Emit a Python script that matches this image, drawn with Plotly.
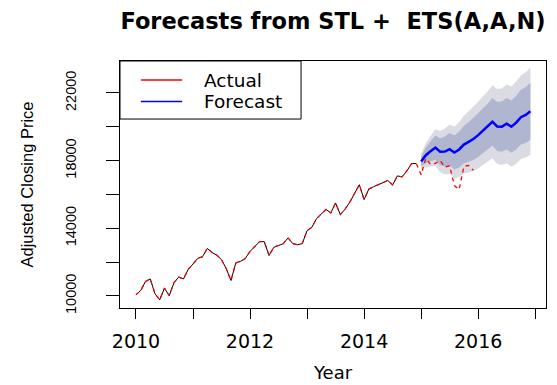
import numpy as np
import plotly.graph_objects as go

# Monthly adjusted closing prices, Jan 2010 - Dec 2015
train_close = [
    10067, 10325, 10857, 11009, 10137, 9774, 10466, 10015, 10788, 11118, 11006, 11578,
    11892, 12226, 12320, 12811, 12570, 12414, 12143, 11614, 10913, 11955, 12046, 12218,
    12633, 12952, 13212, 13214, 12393, 12880, 13009, 13091, 13437, 13096, 13026, 13104,
    13861, 14054, 14579, 14840, 15116, 14910, 15500, 14810, 15130, 15546, 16086, 16577,
    15699, 16322, 16458, 16581, 16717, 16827, 16563, 17098, 17043, 17391, 17828, 17823,
]
test_close = [
    17165, 18133, 17776, 17841, 18011, 17620, 17690, 16528, 16285, 17664, 17720, 17425,
]

# STL + ETS(A,A,N) forecast, Jan 2015 - Dec 2016
fc_mean = [17950, 18320, 18560, 18770, 18530, 18540, 18680, 18480, 18660, 18950, 19110, 19280,
           19510, 19770, 19990, 20300, 20020, 20010, 20180, 20010, 20250, 20570, 20700, 20920]
lo80 = [17650, 17850, 17970, 18060, 17730, 17650, 17730, 17480, 17600, 17830, 17930, 18040,
        18220, 18440, 18620, 18890, 18570, 18530, 18660, 18460, 18660, 18950, 19050, 19240]
hi80 = [18250, 18790, 19150, 19480, 19330, 19430, 19630, 19480, 19720, 20070, 20290, 20520,
        20800, 21100, 21360, 21710, 21470, 21490, 21700, 21560, 21840, 22190, 22350, 22600]
lo95 = [17490, 17600, 17660, 17680, 17310, 17180, 17230, 16950, 17040, 17240, 17300, 17380,
        17540, 17740, 17890, 18140, 17800, 17750, 17850, 17640, 17820, 18090, 18180, 18350]
hi95 = [18410, 19040, 19460, 19860, 19750, 19900, 20130, 20010, 20280, 20660, 20920, 21180,
        21480, 21800, 22090, 22460, 22240, 22270, 22510, 22380, 22680, 23050, 23220, 23490]

year_ticks = [2010, 2011, 2012, 2013, 2014, 2015, 2016, 2017]
year_labels = ["2010", "", "2012", "", "2014", "", "2016", ""]
price_ticks = [10000, 12000, 14000, 16000, 18000, 20000, 22000]
price_labels = ["10000", "", "14000", "", "18000", "", "22000"]

start = 2010.0
actual = train_close + test_close
t_train = start + np.arange(len(train_close)) / 12
t_actual = start + np.arange(len(actual)) / 12
t_fc = start + (len(train_close) + np.arange(len(fc_mean))) / 12

RED = "rgb(255,0,0)"
BLUE = "rgb(0,0,255)"
SHADE95 = "#DBDBE3"
SHADE80 = "#B1B6D0"

fig = go.Figure()

# prediction intervals
for hi, lo, col in [(hi95, lo95, SHADE95), (hi80, lo80, SHADE80)]:
    fig.add_trace(go.Scatter(x=t_fc, y=hi, mode="lines", line=dict(width=0),
                             showlegend=False, hoverinfo="skip"))
    fig.add_trace(go.Scatter(x=t_fc, y=lo, mode="lines", line=dict(width=0),
                             fill="tonexty", fillcolor=col, showlegend=False, hoverinfo="skip"))

# training series
fig.add_trace(go.Scatter(x=t_train, y=train_close, mode="lines",
                         line=dict(color="black", width=1), showlegend=False))
# point forecast
fig.add_trace(go.Scatter(x=t_fc, y=fc_mean, mode="lines", name="Forecast",
                         line=dict(color=BLUE, width=2.5), showlegend=False))
# actual values
fig.add_trace(go.Scatter(x=t_actual, y=actual, mode="lines", name="Actual",
                         line=dict(color=RED, width=1.3, dash="4px,4px"), showlegend=False))

# legend box drawn in paper coordinates
legend_entries = [("Actual", RED), ("Forecast", BLUE)]
fig.add_shape(type="rect", xref="paper", yref="paper", x0=0, x1=0.425, y0=0.765, y1=1,
              line=dict(color="black", width=1), fillcolor="white", layer="above")
for i, (label, col) in enumerate(legend_entries):
    ly = 0.923 - i * 0.087
    fig.add_shape(type="line", xref="paper", yref="paper", x0=0.049, x1=0.146, y0=ly, y1=ly,
                  line=dict(color=col, width=1.3), layer="above")
    fig.add_annotation(xref="paper", yref="paper", x=0.192, y=ly, text=label, showarrow=False,
                       xanchor="left", yanchor="middle",
                       font=dict(family="DejaVu Sans", size=18.5, color="black"))

# x-axis title
fig.add_annotation(xref="paper", yref="paper", x=0.5, y=-0.306, text="Year", showarrow=False,
                   xanchor="center", yanchor="bottom", borderpad=0,
                   font=dict(family="DejaVu Sans", size=18, color="black"))

fig.update_layout(
    width=557, height=385,
    margin=dict(l=120, r=11, t=61, b=77, autoexpand=False),
    plot_bgcolor="white", paper_bgcolor="white",
    title=dict(text="Forecasts from STL +  ETS(A,A,N)", x=0.5, xref="paper",
               xanchor="center", y=1 - 21 / 385, yanchor="middle",
               font=dict(family="DejaVu Sans", size=22.5, color="black", weight="bold")),
    showlegend=False,
)
fig.update_xaxes(
    automargin=False,
    range=[2009.72, 2017.19], tickvals=year_ticks, ticktext=year_labels,
    ticks="outside", ticklen=10, tickcolor="black", tickwidth=1,
    showline=True, mirror=True, linecolor="black", linewidth=1,
    showgrid=False, zeroline=False, ticklabelstandoff=6,
    tickfont=dict(family="DejaVu Sans", size=19, color="black"),
)
fig.update_yaxes(
    automargin=False,
    range=[9290, 23890], tickvals=price_ticks, ticktext=price_labels, tickangle=-90,
    ticks="outside", ticklen=13, tickcolor="black", tickwidth=1,
    showline=True, mirror=True, linecolor="black", linewidth=1,
    showgrid=False, zeroline=False, ticklabelstandoff=24,
    tickfont=dict(family="Liberation Sans", size=14.5, color="black"),
    title=dict(text="Adjusted Closing Price",
               font=dict(family="Liberation Sans", size=16.5, color="black"), standoff=25),
)

fig.write_html("out.html")
